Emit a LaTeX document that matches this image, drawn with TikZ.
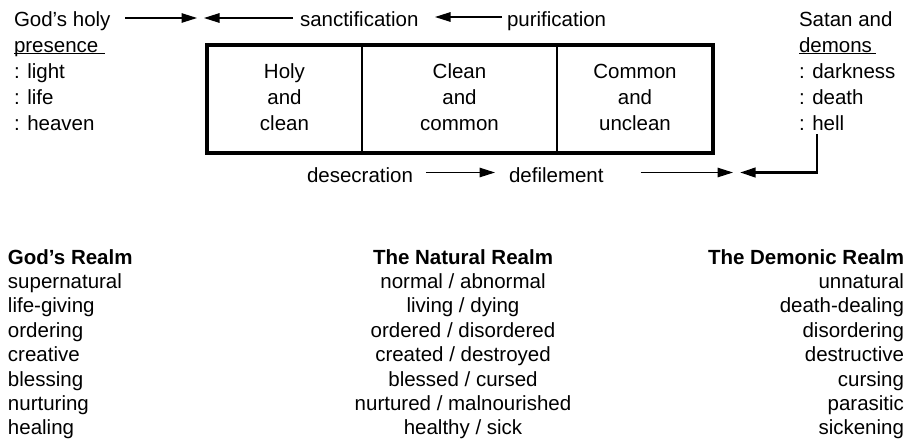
\documentclass[tikz,border=0pt]{standalone}
\usepackage{fontspec}
\setmainfont{Liberation Sans}
\usetikzlibrary{arrows.meta}
\begin{document}
\begin{tikzpicture}[x=1pt,y=-1pt,
  txt/.style={font=\fontsize{20.5}{24}\selectfont, inner sep=0pt, outer sep=0pt},
  hd/.style={txt, font=\fontsize{20.5}{24}\selectfont\bfseries},
  cell/.style={draw=none, inner sep=0pt, outer sep=0pt, minimum height=108pt},
  arr/.style={line width=1.2pt, -{Triangle[length=15.5pt,width=9.5pt]}},
  thickarr/.style={line width=2.3pt, -{Triangle[length=15.5pt,width=9.5pt]}},
  ul/.style={line width=1.2pt}]
\useasboundingbox (0,0) rectangle (907,442);

% left column
\node[txt,anchor=base west] (gh) at (14,26) {God’s holy};
\node[txt,anchor=base west] (pres) at (14,52) {presence};
\node[txt,anchor=base west] (light) at (14,78) {: light};
\node[txt,anchor=base west] (life) at (14,104) {: life};
\node[txt,anchor=base west] (heaven) at (14,130) {: heaven};
\draw[ul] ([yshift=-1.8pt]pres.base west) -- ++(91,0);

% right column
\node[txt,anchor=base west] (satan) at (799,26) {Satan and};
\node[txt,anchor=base west] (demons) at (799,52) {demons};
\node[txt,anchor=base west] (dark) at (799,78) {: darkness};
\node[txt,anchor=base west] (death) at (799,104) {: death};
\node[txt,anchor=base west] (hell) at (799,130) {: hell};
\draw[ul] ([yshift=-1.8pt]demons.base west) -- ++(77,0);

% box
\node[cell, minimum width=155pt] (c1) at (284.5,98.5) {};
\node[cell, minimum width=195pt] (c2) at (459.5,98.5) {};
\node[cell, minimum width=156pt] (c3) at (635,98.5) {};
\draw[line width=1.5pt] (c1.north east) -- (c1.south east);
\draw[line width=2.5pt] (c2.north east) -- (c2.south east);
\draw[line width=4pt] (c1.north west) rectangle (c3.south east);

\node[txt,anchor=base] (a1) at (c1 |- 0,78) {Holy};
\node[txt,anchor=base] (a2) at (c1 |- 0,104) {and};
\node[txt,anchor=base] (a3) at (c1 |- 0,130) {clean};
\node[txt,anchor=base] (b1) at (c2 |- 0,78) {Clean};
\node[txt,anchor=base] (b2) at (c2 |- 0,104) {and};
\node[txt,anchor=base] (b3) at (c2 |- 0,130) {common};
\node[txt,anchor=base] (d1) at (c3 |- 0,78) {Common};
\node[txt,anchor=base] (d2) at (c3 |- 0,104) {and};
\node[txt,anchor=base] (d3) at (c3 |- 0,130) {unclean};

% top arrows
\node[txt,anchor=base west] (sanct) at (300,26) {sanctification};
\node[txt,anchor=base west] (pur) at (507,26) {purification};
\coordinate (tipA) at (197,18);
\coordinate (tipB) at (204,18);
\coordinate (tipC) at (435,17);
\draw[arr] ([xshift=15pt]gh.east |- tipA) -- (tipA);
\draw[arr] ([xshift=-7pt]sanct.west |- tipB) -- (tipB);
\draw[arr] ([xshift=-5pt]pur.west |- tipC) -- (tipC);

% bottom arrows
\node[txt,anchor=base west] (desec) at (307,182) {desecration};
\node[txt,anchor=base west] (defil) at (509,182) {defilement};
\coordinate (tipD) at (495,172.5);
\coordinate (tipE) at (733,172.5);
\coordinate (tipF) at (740,172.5);
\draw[arr] ([xshift=13pt]desec.east |- tipD) -- (tipD);
\draw[arr] ([xshift=37pt]defil.east |- tipE) -- (tipE);
\draw[thickarr] ([xshift=18pt,yshift=-4pt]hell.base west) |- (tipF);

% realms
\node[hd,anchor=base west] (gr) at (8,264) {God’s Realm};
\node[txt,anchor=base west] (g1) at (8,288.4) {supernatural};
\node[txt,anchor=base west] (g2) at (8,312.8) {life-giving};
\node[txt,anchor=base west] (g3) at (8,337.2) {ordering};
\node[txt,anchor=base west] (g4) at (8,361.6) {creative};
\node[txt,anchor=base west] (g5) at (8,386) {blessing};
\node[txt,anchor=base west] (g6) at (8,410.4) {nurturing};
\node[txt,anchor=base west] (g7) at (8,434.8) {healing};

\node[hd,anchor=base] (nr) at (463,264) {The Natural Realm};
\node[txt,anchor=base] (n1) at (463,288.4) {normal / abnormal};
\node[txt,anchor=base] (n2) at (463,312.8) {living / dying};
\node[txt,anchor=base] (n3) at (463,337.2) {ordered / disordered};
\node[txt,anchor=base] (n4) at (463,361.6) {created / destroyed};
\node[txt,anchor=base] (n5) at (463,386) {blessed / cursed};
\node[txt,anchor=base] (n6) at (463,410.4) {nurtured / malnourished};
\node[txt,anchor=base] (n7) at (463,434.8) {healthy / sick};

\node[hd,anchor=base east] (dr) at (904,264) {The Demonic Realm};
\node[txt,anchor=base east] (r1) at (904,288.4) {unnatural};
\node[txt,anchor=base east] (r2) at (904,312.8) {death-dealing};
\node[txt,anchor=base east] (r3) at (904,337.2) {disordering};
\node[txt,anchor=base east] (r4) at (904,361.6) {destructive};
\node[txt,anchor=base east] (r5) at (904,386) {cursing};
\node[txt,anchor=base east] (r6) at (904,410.4) {parasitic};
\node[txt,anchor=base east] (r7) at (904,434.8) {sickening};
\end{tikzpicture}
\end{document}
